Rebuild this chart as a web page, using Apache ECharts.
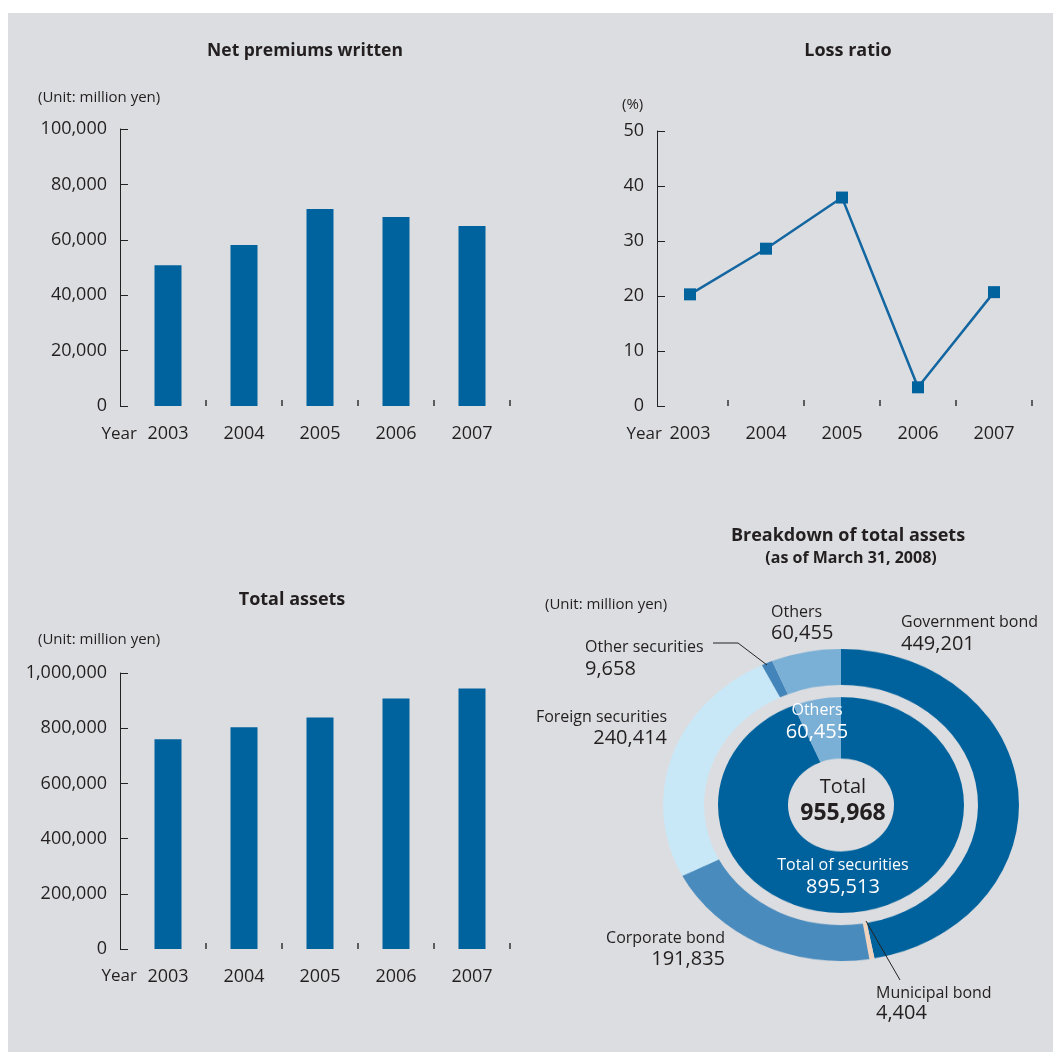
<!DOCTYPE html>
<html>
<head>
<meta charset="utf-8">
<title>Financial highlights</title>
<script src="https://cdn.jsdelivr.net/npm/echarts@6/dist/echarts.min.js"></script>
<style>
  html, body { margin: 0; padding: 0; background: #fff; }
  #panel { position: absolute; left: 8px; top: 13px; width: 1045px; height: 1039px; background: #dcdde0; }
  /* the donut in the reference is slightly wider than tall */
  #pie { position: absolute; left: 0; top: 0; width: 1053px; height: 1052px; transform: scaleY(0.877); transform-origin: 0 805px; }
  #main { position: absolute; left: 0; top: 0; width: 1053px; height: 1052px; }
</style>
</head>
<body>
<div id="panel"></div>
<div id="pie"></div>
<div id="main"></div>
<script>
// data
const years = ['2003', '2004', '2005', '2006', '2007'];
const netPremiums = [50800, 58100, 71100, 68200, 65000];
const lossRatio = [20.3, 28.6, 37.9, 3.4, 20.7];
const totalAssets = [760000, 803000, 839000, 908000, 944000];

const assetNames = ['Government bond', 'Municipal bond', 'Corporate bond', 'Foreign securities', 'Other securities', 'Others'];
const assetValues = [449201, 4404, 191835, 240414, 9658, 60455];
const innerNames = ['Total of securities', 'Others'];
const innerValues = [895513, 60455];
const totalValue = 955968;

// styles
const BLUE = '#00639e';
const INK = '#231f20';
const FONT = '"Open Sans", "Noto Sans", sans-serif';
const outerColors = ['#00629d', '#efd3bd', '#4a8bbd', '#c8e8f8', '#4384ba', '#7aafd6'];
const innerColors = ['#00629d', '#7aafd6'];

const fmt = v => v.toLocaleString('en-US');

// ---- donut (own instance, squeezed vertically by css) ----
const pieChart = echarts.init(document.getElementById('pie'));
pieChart.setOption({
  animation: false,
  series: [{
    type: 'pie',
    center: [841, 805],
    radius: [137, 178],
    startAngle: 90,
    silent: true,
    label: { show: false },
    labelLine: { show: false },
    itemStyle: { borderWidth: 0 },
    data: assetNames.map((n, i) => ({ name: n, value: assetValues[i], itemStyle: { color: outerColors[i] } }))
  }, {
    type: 'pie',
    center: [841, 805],
    radius: [53, 123],
    startAngle: 90,
    silent: true,
    label: { show: false },
    labelLine: { show: false },
    itemStyle: { borderWidth: 0 },
    data: innerNames.map((n, i) => ({ name: n, value: innerValues[i], itemStyle: { color: innerColors[i] } }))
  }]
});

// ---- bars, line and all texts ----
function txt(x, y, text, o) {
  o = o || {};
  return {
    type: 'text', x: x, y: y, silent: true, z: 100,
    style: {
      text: text,
      fill: o.color || INK,
      fontSize: o.size || 16,
      fontWeight: o.bold ? 'bold' : 'normal',
      fontFamily: FONT,
      align: o.align || 'left', textAlign: o.align || 'left',
      verticalAlign: 'middle', textVerticalAlign: 'middle'
    }
  };
}

function catAxis(gi) {
  return {
    type: 'category', gridIndex: gi, data: years,
    axisLine: { show: false },
    axisTick: { show: true, inside: true, length: 6, interval: i => i !== 0, lineStyle: { color: '#333', width: 1.5 } },
    axisLabel: { margin: 19, fontSize: 18, color: INK, fontFamily: FONT }
  };
}
function valAxis(gi, max, step, offset) {
  return {
    type: 'value', gridIndex: gi, min: 0, max: max, interval: step, offset: offset,
    axisLine: { show: true, lineStyle: { color: '#222', width: 1 } },
    axisTick: { show: true, inside: true, length: 8, lineStyle: { color: '#222', width: 1 } },
    splitLine: { show: false },
    axisLabel: { margin: 13, fontSize: 18, color: INK, fontFamily: FONT, formatter: v => fmt(v) }
  };
}

const chart = echarts.init(document.getElementById('main'));
chart.setOption({
  animation: false,
  backgroundColor: 'transparent',
  textStyle: { fontFamily: FONT },
  grid: [
    { left: 130, top: 129, width: 380, height: 277 },
    { left: 652, top: 131, width: 380, height: 275 },
    { left: 130, top: 673, width: 380, height: 276 }
  ],
  xAxis: [catAxis(0), catAxis(1), catAxis(2)],
  yAxis: [
    valAxis(0, 100000, 20000, 10),
    valAxis(1, 50, 10, -5),
    valAxis(2, 1000000, 200000, 10)
  ],
  series: [{
    name: 'Net premiums written', type: 'bar', xAxisIndex: 0, yAxisIndex: 0,
    barWidth: 27, itemStyle: { color: BLUE }, data: netPremiums
  }, {
    name: 'Loss ratio', type: 'line', xAxisIndex: 1, yAxisIndex: 1,
    symbol: 'rect', symbolSize: 12,
    lineStyle: { color: '#1466a1', width: 2.5 },
    itemStyle: { color: BLUE },
    data: lossRatio
  }, {
    name: 'Total assets', type: 'bar', xAxisIndex: 2, yAxisIndex: 2,
    barWidth: 27, itemStyle: { color: BLUE }, data: totalAssets
  }],
  graphic: [
    // titles
    txt(305, 51, 'Net premiums written', { bold: true, size: 17.5, align: 'center' }),
    txt(848, 51, 'Loss ratio', { bold: true, size: 18, align: 'center' }),
    txt(292, 600, 'Total assets', { bold: true, size: 18, align: 'center' }),
    txt(848, 536, 'Breakdown of total assets', { bold: true, size: 18, align: 'center' }),
    txt(851, 558, '(as of March 31, 2008)', { bold: true, size: 16, align: 'center' }),
    // units
    txt(38, 98, '(Unit: million yen)', { size: 15 }),
    txt(38, 640, '(Unit: million yen)', { size: 15 }),
    txt(545, 605, '(Unit: million yen)', { size: 15 }),
    txt(622, 105, '(%)', { size: 15 }),
    txt(137, 434, 'Year', { size: 17, align: 'right' }),
    txt(662, 434, 'Year', { size: 17, align: 'right' }),
    txt(137, 976, 'Year', { size: 17, align: 'right' }),
    // donut labels
    txt(771, 612, assetNames[5]),
    txt(771, 633, fmt(assetValues[5]), { size: 20 }),
    txt(901, 622, assetNames[0]),
    txt(901, 644, fmt(assetValues[0]), { size: 20 }),
    txt(585, 647, assetNames[4]),
    txt(585, 669, fmt(assetValues[4]), { size: 20 }),
    txt(667, 717, assetNames[3], { align: 'right' }),
    txt(667, 738, fmt(assetValues[3]), { size: 20, align: 'right' }),
    txt(725, 938, assetNames[2], { align: 'right' }),
    txt(725, 959, fmt(assetValues[2]), { size: 20, align: 'right' }),
    txt(876, 993, assetNames[1]),
    txt(876, 1013, fmt(assetValues[1]), { size: 20 }),
    txt(817, 710, innerNames[1], { color: '#fff', align: 'center' }),
    txt(817, 732, fmt(innerValues[1]), { size: 20, color: '#fff', align: 'center' }),
    txt(843, 787, 'Total', { size: 20, align: 'center' }),
    txt(843, 813, fmt(totalValue), { size: 23, bold: true, align: 'center' }),
    txt(843, 865, innerNames[0], { color: '#fff', align: 'center' }),
    txt(843, 887, fmt(innerValues[0]), { size: 20, color: '#fff', align: 'center' }),
    // leader lines
    { type: 'polyline', silent: true, z: 100, shape: { points: [[713, 643], [738, 643], [767, 665]] }, style: { stroke: '#222', lineWidth: 1, fill: null } },
    { type: 'line', silent: true, z: 100, shape: { x1: 866, y1: 921, x2: 900, y2: 980 }, style: { stroke: '#222', lineWidth: 1 } }
  ]
});
</script>
</body>
</html>
